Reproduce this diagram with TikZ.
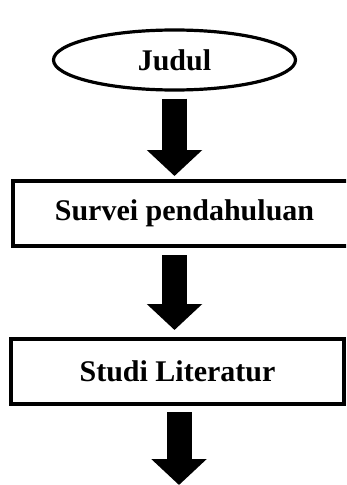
\documentclass[tikz,border=0pt]{standalone}
\usepackage{fontspec}
\setmainfont{Liberation Serif}
\usetikzlibrary{shapes.geometric, arrows.meta}

\begin{document}
\begin{tikzpicture}[x=0.75pt,y=0.75pt,yscale=-1,xscale=1,
        every node/.style={font=\fontsize{22.5}{27}\selectfont\bfseries},
        startend/.style={ellipse, draw, line width=2.4pt, minimum width=181.5pt, minimum height=45pt, inner sep=0pt},
        process/.style={rectangle, draw, line width=3pt, minimum height=48.75pt, inner sep=0pt},
        bigarrow/.style={line width=18.75pt, -{Triangle[width=40.5pt,length=19.5pt]}}]
        %set diagram left start at 0, and has height of 485
        \useasboundingbox (0,0) rectangle (346,485);
        \clip (0,0) rectangle (346,485);
        
        %Shape: Ellipse [id:judul]
        \node [startend] (judul) at (174.5,60) {Judul};
        %Shape: Rectangle [id:survei]
        \node [process, minimum width=257.25pt] (survei) at (184.5,213.5) {Survei pendahuluan};
        %Shape: Rectangle [id:literatur]
        \node [process, minimum width=249.75pt] (literatur) at (177.5,371.5) {Studi Literatur};
        \coordinate (lanjut) at (179,485);
        
        % Block Arrows
        \draw [bigarrow, shorten <=5.25pt, shorten >=2.25pt] (judul.south) -- (judul.south |- survei.north);
        \draw [bigarrow, shorten <=5.25pt, shorten >=5.25pt] (survei.south -| judul.south) -- (judul.south |- literatur.north);
        \draw [bigarrow, shorten <=4.5pt] (literatur.south -| lanjut) -- (lanjut);
        
        
\end{tikzpicture}
\end{document}
